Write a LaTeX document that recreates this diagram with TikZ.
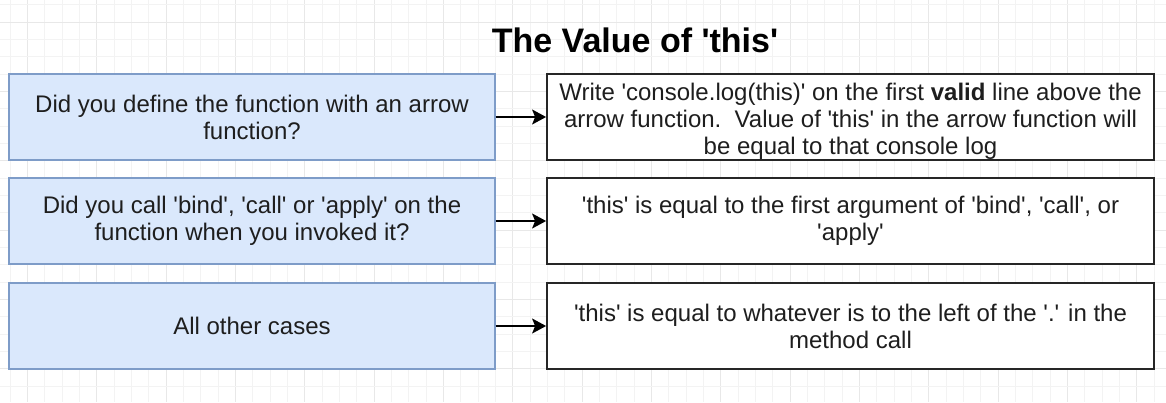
\documentclass[tikz,border=0pt]{standalone}
\usepackage{fontspec}
\newfontfamily\arialf{Liberation Sans}
\usetikzlibrary{arrows.meta}
\definecolor{qfill}{HTML}{DAE8FC}
\definecolor{qline}{HTML}{7E9CC8}
\definecolor{txt}{HTML}{1E1E1E}
\definecolor{gridminor}{HTML}{F3F3F3}
\definecolor{gridmajor}{HTML}{E8E8E8}
\begin{document}
\begin{tikzpicture}[x=1pt,y=-1pt,
  bodyfont/.style={font=\arialf\fontsize{24}{27}\selectfont},
  qbox/.style={bodyfont, draw=qline, fill=qfill, line width=1.4pt, minimum width=486pt, minimum height=86pt, align=center, text=txt, inner sep=0pt},
  abox/.style={bodyfont, draw=black!85, fill=white, line width=1.8pt, minimum width=607pt, minimum height=86pt, align=center, text=txt, inner sep=0pt},
  conn/.style={-{Stealth[length=14pt,width=15pt,inset=3pt]}, line width=1.7pt, black}]
\useasboundingbox (0,0) rectangle (1166,402);
\fill[white] (0,0) rectangle (1166,402);
% background grid
\foreach \k in {0,...,66}{
  \pgfmathtruncatemacro\m{mod(\k,4)}
  \ifnum\m=1 \def\gc{gridmajor}\else\def\gc{gridminor}\fi
  \draw[\gc, line width=0.8pt] ({10+\k*17.333},0) -- ++(0,402);
}
\foreach \k in {0,...,23}{
  \pgfmathtruncatemacro\m{mod(\k,4)}
  \ifnum\m=1 \def\gc{gridmajor}\else\def\gc{gridminor}\fi
  \draw[\gc, line width=0.8pt] (0,{74+(\k-4)*17.333}) -- ++(1166,0);
}
% title
\node[font=\arialf\bfseries\fontsize{34}{40}\selectfont, anchor=base, text=black] (title) at (635,52) {The Value of 'this'};
% question boxes
\node[qbox] (q1) at (252,117) {Did you define the function with an arrow\\function?};
\node[qbox] (q2) at (252,221) {Did you call 'bind', 'call' or 'apply' on the\\function when you invoked it?};
\node[qbox] (q3) at (252,326) {All other cases};
% answer boxes
\node[abox, label={[bodyfont, align=center, text=txt, inner sep=0pt, yshift=-4pt]center:{Write 'console.log(this)' on the first \textbf{valid} line above the\\arrow function.\ \ Value of 'this' in the arrow function will\\be equal to that console log}}] (a1) at (850.5,117) {};
\node[abox] (a2) at (850.5,221) {'this' is equal to the first argument of 'bind', 'call', or\\'apply'};
\node[abox] (a3) at (850.5,326) {'this' is equal to whatever is to the left of the '.' in the\\method call};
% connectors
\draw[conn] (q1.east) -- (a1.west);
\draw[conn] (q2.east) -- (a2.west);
\draw[conn] (q3.east) -- (a3.west);
\end{tikzpicture}
\end{document}
